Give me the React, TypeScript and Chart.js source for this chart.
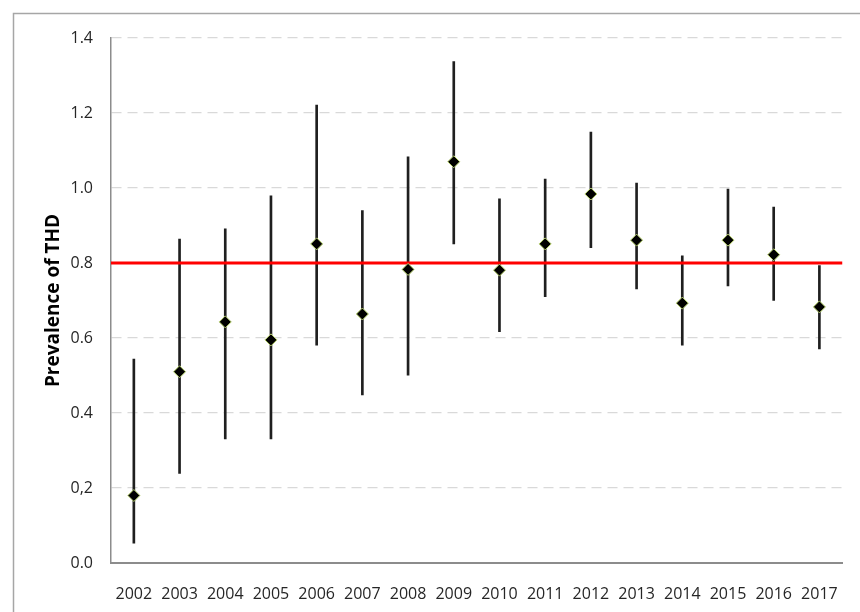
import React, { useEffect, useRef } from "react";
import { Chart, registerables } from "chart.js";

Chart.register(...registerables);

const YEARS = ["2002", "2003", "2004", "2005", "2006", "2007", "2008", "2009", "2010", "2011", "2012", "2013", "2014", "2015", "2016", "2017"];
const PREVALENCE = [0.18, 0.51, 0.643, 0.595, 0.851, 0.664, 0.783, 1.07, 0.781, 0.851, 0.984, 0.861, 0.693, 0.861, 0.822, 0.683];
const LOWER = [0.053, 0.239, 0.331, 0.331, 0.581, 0.448, 0.501, 0.851, 0.617, 0.71, 0.841, 0.731, 0.581, 0.739, 0.7, 0.571];
const UPPER = [0.544, 0.864, 0.891, 0.979, 1.221, 0.94, 1.083, 1.337, 0.971, 1.024, 1.149, 1.013, 0.819, 0.997, 0.949, 0.793];
const THRESHOLD = 0.8;
const Y_TICK_LABELS = ["0.0", "0,2", "0.4", "0.6", "0.8", "1.0", "1.2", "1.4"];
const Y_TITLE = "Prevalence of THD";

const FONT = "'Open Sans', 'Noto Sans', sans-serif";

const frameAndThreshold = {
  id: "frameAndThreshold",
  beforeDraw(chart: any) {
    const ctx = chart.ctx;
    ctx.save();
    ctx.fillStyle = "#ffffff";
    ctx.fillRect(0, 0, chart.width, chart.height);
    ctx.strokeStyle = "#a6a6a6";
    ctx.lineWidth = 1.5;
    ctx.beginPath();
    ctx.moveTo(13.5, chart.height);
    ctx.lineTo(13.5, 13.5);
    ctx.lineTo(chart.width, 13.5);
    ctx.stroke();
    ctx.restore();
  },
  afterDatasetDraw(chart: any, args: any) {
    if (args.index !== 0) return;
    const { ctx, chartArea } = chart;
    const y = chart.scales.y.getPixelForValue(THRESHOLD);
    ctx.save();
    ctx.strokeStyle = "#ff0000";
    ctx.lineWidth = 3;
    ctx.beginPath();
    ctx.moveTo(chartArea.left, y);
    ctx.lineTo(chartArea.right, y);
    ctx.stroke();
    ctx.restore();
  },
};

export default function App() {
  const ref = useRef<HTMLCanvasElement | null>(null);

  useEffect(() => {
    document.body.style.margin = "0";
    const canvas = ref.current;
    if (!canvas) return;
    const chart = new Chart(canvas, {
      type: "bar",
      data: {
        labels: YEARS,
        datasets: [
          {
            type: "bar",
            data: LOWER.map((lo, i) => [lo, UPPER[i]]) as any,
            backgroundColor: "#1f1f1f",
            borderWidth: 0,
            barThickness: 2,
            order: 2,
          },
          {
            type: "line",
            data: PREVALENCE,
            showLine: false,
            pointStyle: "rectRot",
            pointRadius: 6,
            pointBackgroundColor: "#000000",
            pointBorderColor: "#b9d36e",
            pointBorderWidth: 1,
            order: 1,
          } as any,
        ],
      },
      options: {
        responsive: false,
        animation: false,
        events: [],
        layout: { padding: { left: 0, top: 38, right: 10, bottom: 0 } },
        plugins: {
          legend: { display: false },
          tooltip: { enabled: false },
          title: { display: false },
        },
        scales: {
          x: {
            type: "category",
            offset: true,
            grid: { display: false, offset: true, drawTicks: false },
            border: { display: true, color: "#8c8c8c", width: 2 },
            ticks: {
              color: "#262626",
              font: { family: FONT, size: 16 },
              padding: 22,
              maxRotation: 0,
              autoSkip: false,
            },
            afterFit: (s: any) => {
              s.height = 49;
            },
          },
          y: {
            min: 0,
            max: 1.4,
            grid: { color: "#d9d9d9", lineWidth: 1.3, drawTicks: false },
            border: { display: true, color: "#8c8c8c", width: 1.5, dash: [10, 6] },
            ticks: {
              stepSize: 0.2,
              color: "#262626",
              font: { family: FONT, size: 16 },
              padding: 18,
              callback: (_v: any, i: number) => Y_TICK_LABELS[i],
            },
            title: {
              display: true,
              text: Y_TITLE,
              color: "#000000",
              font: { family: FONT, size: 19, weight: "bold" },
              padding: { top: 42, bottom: 0 },
            },
            afterFit: (s: any) => {
              s.width = 111;
            },
          },
        },
      },
      plugins: [frameAndThreshold],
    });
    return () => chart.destroy();
  }, []);

  return (
    <div style={{ position: "absolute", left: 0, top: 0, width: 860, height: 612 }}>
      <canvas ref={ref} width={860} height={612} />
    </div>
  );
}
